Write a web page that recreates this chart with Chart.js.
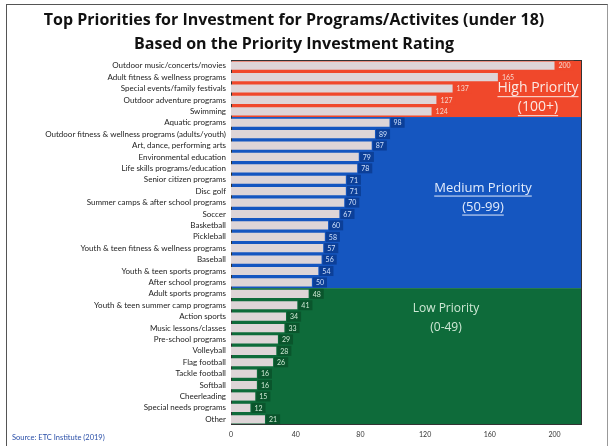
<!DOCTYPE html>
<html>
<head>
<meta charset="utf-8">
<script src="https://cdn.jsdelivr.net/npm/chart.js@4"></script>
<style>
  html, body { margin: 0; padding: 0; background: #fff; }
  #wrap { position: relative; width: 615px; height: 446px; }
  #frame { position: absolute; left: 6px; top: 4px; width: 602px; height: 446px;
           border-left: 1px solid #555; border-top: 1px solid #555; border-right: 1px solid #999; box-sizing: border-box; }
  #source { position: absolute; left: 12px; top: 433px; font: 7.5px Lato, sans-serif; color: #2a4fa8; }
</style>
</head>
<body>
<div id="wrap">
  <div id="frame"></div>
  <canvas id="chart" width="615" height="446"></canvas>
  <div id="source">Source: ETC Institute (2019)</div>
</div>
<script>
const programs = [
  'Outdoor music/concerts/movies', 'Adult fitness & wellness programs', 'Special events/family festivals',
  'Outdoor adventure programs', 'Swimming', 'Aquatic programs',
  'Outdoor fitness & wellness programs (adults/youth)', 'Art, dance, performing arts',
  'Environmental education', 'Life skills programs/education', 'Senior citizen programs', 'Disc golf',
  'Summer camps & after school programs', 'Soccer', 'Basketball', 'Pickleball',
  'Youth & teen fitness & wellness programs', 'Baseball', 'Youth & teen sports programs',
  'After school programs', 'Adult sports programs', 'Youth & teen summer camp programs',
  'Action sports', 'Music lessons/classes', 'Pre-school programs', 'Volleyball', 'Flag football',
  'Tackle football', 'Softball', 'Cheerleading', 'Special needs programs', 'Other'
];
const ratings = [200, 165, 137, 127, 124, 98, 89, 87, 79, 78, 71, 71, 70, 67, 60, 58, 57, 56, 54, 50,
  48, 41, 34, 33, 29, 28, 26, 16, 16, 15, 12, 21];
const xTicks = [0, 40, 80, 120, 160, 200];

// priority bands: rows [first, last], fill, label box colour, caption
const bands = [
  { from: 0, to: 4, fill: '#f0482b', box: '#f0482b', text: '#f6d6cc', title: ['High Priority', '(100+)'], cx: 538, cy: 88, size: 14, underline: true, color: '#fbe9e4' },
  { from: 5, to: 19, fill: '#1556c0', box: '#0c3f98', text: '#cfe0fb', title: ['Medium Priority', '(50-99)'], cx: 483, cy: 188, size: 13, underline: true, color: '#e3ecfb' },
  { from: 20, to: 31, fill: '#0e6b3a', box: '#0a552c', text: '#cde8d3', title: ['Low Priority', '(0-49)'], cx: 446, cy: 309, size: 12, underline: false, color: '#cfe9d6' }
];

function bandOf(i) {
  return bands.find(b => i >= b.from && i <= b.to);
}

const bandPlugin = {
  id: 'bands',
  beforeDatasetsDraw(chart) {
    const { ctx, chartArea, scales } = chart;
    const y = scales.y;
    const half = (y.getPixelForValue(1) - y.getPixelForValue(0)) / 2;
    ctx.save();
    bands.forEach(b => {
      const top = b.from === 0 ? chartArea.top : y.getPixelForValue(b.from) - half;
      const bottom = b.to === programs.length - 1 ? chartArea.bottom : y.getPixelForValue(b.to) + half;
      ctx.fillStyle = b.fill;
      ctx.fillRect(chartArea.left, top, chartArea.right - chartArea.left, bottom - top);
    });
    ctx.strokeStyle = '#333';
    ctx.lineWidth = 1;
    ctx.strokeRect(chartArea.left + 0.5, chartArea.top + 0.5, chartArea.right - chartArea.left - 1, chartArea.bottom - chartArea.top - 1);
    ctx.restore();
  },
  afterDatasetsDraw(chart) {
    const { ctx } = chart;
    const meta = chart.getDatasetMeta(0);
    ctx.save();
    // value tags at the end of each bar
    ctx.font = '7px Lato, sans-serif';
    ctx.textBaseline = 'middle';
    meta.data.forEach((bar, i) => {
      const b = bandOf(i);
      const txt = String(ratings[i]);
      const w = ctx.measureText(txt).width + 6;
      ctx.fillStyle = b.box;
      ctx.fillRect(bar.x + 1, bar.y - 5, w, 10);
      ctx.fillStyle = b.text;
      ctx.textAlign = 'left';
      ctx.fillText(txt, bar.x + 4, bar.y + 0.5);
    });
    // band captions
    bands.forEach(b => {
      ctx.font = b.size + 'px "Open Sans", sans-serif';
      ctx.fillStyle = b.color;
      ctx.strokeStyle = b.color;
      ctx.textAlign = 'center';
      b.title.forEach((line, k) => {
        const ly = b.cy + k * 19;
        ctx.fillText(line, b.cx, ly);
        if (b.underline) {
          const w = ctx.measureText(line).width;
          ctx.lineWidth = 1;
          ctx.beginPath();
          ctx.moveTo(b.cx - w / 2, ly + b.size * 0.62);
          ctx.lineTo(b.cx + w / 2, ly + b.size * 0.62);
          ctx.stroke();
        }
      });
    });
    ctx.restore();
  }
};

new Chart(document.getElementById('chart'), {
  type: 'bar',
  data: {
    labels: programs,
    datasets: [{
      data: ratings,
      backgroundColor: '#ded5d7',
      borderWidth: 0,
      barPercentage: 0.72,
      categoryPercentage: 1
    }]
  },
  options: {
    indexAxis: 'y',
    responsive: false,
    animation: false,
    layout: { padding: { left: 6, right: 33, top: 0, bottom: 0 } },
    plugins: {
      legend: { display: false },
      tooltip: { enabled: false },
      title: {
        display: true,
        text: ['Top Priorities for Investment for Programs/Activites (under 18)', 'Based on the Priority Investment Rating'],
        color: '#111',
        font: { family: '"Open Sans", sans-serif', size: 16, weight: 'bold', lineHeight: 1.5 },
        padding: { top: 8, bottom: 4 }
      }
    },
    scales: {
      x: {
        min: 0,
        max: 217,
        grid: { display: false, drawTicks: false },
        border: { display: false },
        afterFit(scale) { scale.height = 21; },
        afterBuildTicks(scale) { scale.ticks = xTicks.map(v => ({ value: v })); },
        ticks: { color: '#333', font: { family: 'Lato, sans-serif', size: 7 }, padding: 6 }
      },
      y: {
        grid: { display: false, drawTicks: false },
        border: { display: false },
        afterFit(scale) { scale.width = 225; },
        ticks: { color: '#222', font: { family: 'Lato, sans-serif', size: 8 }, padding: 5, autoSkip: false }
      }
    }
  },
  plugins: [bandPlugin]
});
</script>
</body>
</html>
